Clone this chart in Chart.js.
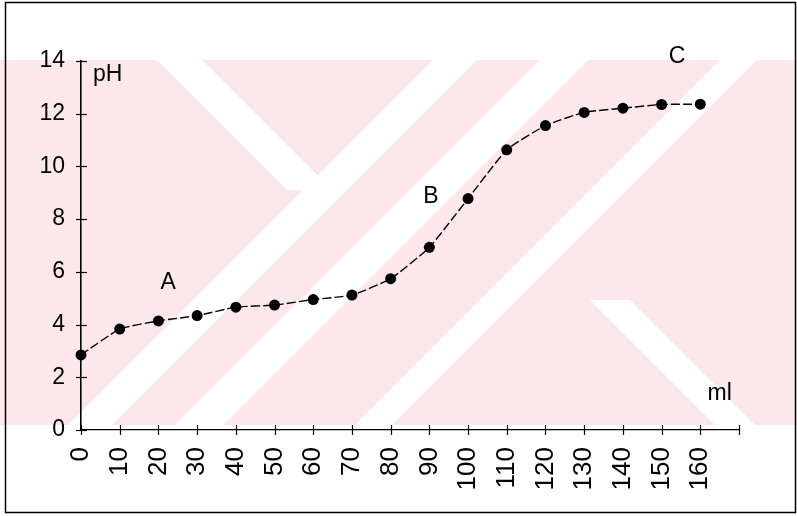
<!DOCTYPE html>
<html>
<head>
<meta charset="utf-8">
<script src="https://cdn.jsdelivr.net/npm/chart.js@4.4.1/dist/chart.umd.min.js"></script>
<style>
  html, body { margin: 0; padding: 0; background: #ffffff; }
  #wrap { width: 797px; height: 516px; position: relative; }
</style>
</head>
<body>
<div id="wrap"><canvas id="c" width="797" height="516"></canvas></div>
<script>
// ---- data ----
const volumeMl = [0, 10, 20, 30, 40, 50, 60, 70, 80, 90, 100, 110, 120, 130, 140, 150, 160];
const phValues = [2.85, 3.83, 4.14, 4.34, 4.66, 4.74, 4.95, 5.12, 5.74, 6.93, 8.78, 10.63, 11.55, 12.05, 12.21, 12.35, 12.36];
const xTickValues = [0, 10, 20, 30, 40, 50, 60, 70, 80, 90, 100, 110, 120, 130, 140, 150, 160, 170];
const xTickLabels = ['0', '10', '20', '30', '40', '50', '60', '70', '80', '90', '100', '110', '120', '130', '140', '150', '160', ''];
const yTickValues = [0, 2, 4, 6, 8, 10, 12, 14];
const noteTexts = ['A', 'B', 'C', 'pH', 'ml'];
const noteX = [22.5, 90.4, 154, 6.9, 165];
const noteY = [5.6, 8.86, 14.15, 13.5, 1.37];

const FONT = "'Liberation Sans', Arial, sans-serif";

// background watermark (scanned page decoration): pink band with white diagonal gaps
const WM_PINK = 'rgb(252,232,236)';
const wmStripes = [
  { dir: '\\', a: -142, b: -97, y1: 60, y2: 190 },
  { dir: '/',  a: 493, b: 537, y1: 60,  y2: 425 },
  { dir: '/',  a: 600, b: 648, y1: 60,  y2: 425 },
  { dir: '/',  a: 780, b: 817, y1: 60,  y2: 425 },
  { dir: '\\', a: -330, b: -290, y1: 300, y2: 425 }
];

function stripeX(dir, c, y) { return dir === '/' ? c - y : y - c; }

const decorPlugin = {
  id: 'decor',
  beforeDraw(chart) {
    const ctx = chart.ctx;
    ctx.save();
    ctx.fillStyle = '#ffffff';
    ctx.fillRect(0, 0, chart.width, chart.height);
    ctx.beginPath();
    ctx.rect(0, 60, chart.width, 365);
    ctx.clip();
    ctx.fillStyle = WM_PINK;
    ctx.fillRect(0, 60, chart.width, 365);
    ctx.fillStyle = '#ffffff';
    wmStripes.forEach(s => {
      ctx.beginPath();
      ctx.moveTo(stripeX(s.dir, s.a, s.y1), s.y1);
      ctx.lineTo(stripeX(s.dir, s.b, s.y1), s.y1);
      ctx.lineTo(stripeX(s.dir, s.b, s.y2), s.y2);
      ctx.lineTo(stripeX(s.dir, s.a, s.y2), s.y2);
      ctx.closePath();
      ctx.fill();
    });
    ctx.restore();
  },
  afterDraw(chart) {
    const ctx = chart.ctx;
    const xs = chart.scales.x, ys = chart.scales.y;
    ctx.save();
    // frame
    ctx.strokeStyle = '#000';
    ctx.lineWidth = 1.5;
    ctx.strokeRect(5.5, 2.5, 790, 510);
    // y axis cross ticks
    ctx.lineWidth = 1.2;
    const x0 = xs.getPixelForValue(0);
    yTickValues.forEach(v => {
      const py = Math.round(ys.getPixelForValue(v)) + 0.5;
      ctx.beginPath();
      ctx.moveTo(x0 - 5, py);
      ctx.lineTo(x0 + 6, py);
      ctx.stroke();
    });
    // x axis cross ticks
    const y0 = ys.getPixelForValue(0);
    xTickValues.forEach(v => {
      const px = Math.round(xs.getPixelForValue(v)) + 0.5;
      ctx.beginPath();
      ctx.moveTo(px, y0 - 5);
      ctx.lineTo(px, y0 + 5);
      ctx.stroke();
    });
    // annotations
    ctx.fillStyle = '#000';
    ctx.font = '23px ' + FONT;
    ctx.textAlign = 'center';
    ctx.textBaseline = 'middle';
    noteTexts.forEach((t, i) => {
      ctx.fillText(t, xs.getPixelForValue(noteX[i]), ys.getPixelForValue(noteY[i]));
    });
    ctx.restore();
  }
};

new Chart(document.getElementById('c'), {
  type: 'line',
  data: {
    datasets: [{
      data: volumeMl.map((v, i) => ({ x: v, y: phValues[i] })),
      borderColor: '#000',
      borderWidth: 1.4,
      borderDash: [9, 3],
      tension: 0.15,
      pointRadius: 5.5,
      pointBackgroundColor: '#000',
      pointBorderColor: '#000',
      pointBorderWidth: 0,
      clip: false
    }]
  },
  options: {
    responsive: false,
    animation: false,
    devicePixelRatio: 1,
    layout: { padding: { left: 0, top: 61, right: 58, bottom: 0 } },
    plugins: { legend: { display: false }, tooltip: { enabled: false } },
    scales: {
      x: {
        type: 'linear',
        min: 0, max: 170,
        afterFit(s) { s.height = 86; },
        afterBuildTicks(s) { s.ticks = xTickValues.map(v => ({ value: v })); },
        grid: { display: false, drawTicks: false },
        border: { display: true, color: '#000', width: 1.3, dash: [6, 2] },
        ticks: {
          autoSkip: false,
          minRotation: 90, maxRotation: 90,
          padding: 17,
          color: '#000',
          font: { family: "'Liberation Sans Narrow', 'Liberation Sans', Arial, sans-serif", size: 26 },
          callback(v) { const i = xTickValues.indexOf(v); return i >= 0 ? xTickLabels[i] : ''; }
        }
      },
      y: {
        type: 'linear',
        min: 0, max: 14,
        afterFit(s) { s.width = 81; },
        afterBuildTicks(s) { s.ticks = yTickValues.map(v => ({ value: v })); },
        grid: { display: false, drawTicks: false },
        border: { display: true, color: '#000', width: 1.6 },
        ticks: {
          padding: 16,
          color: '#000',
          font: { family: FONT, size: 23 }
        }
      }
    }
  },
  plugins: [decorPlugin]
});
</script>
</body>
</html>
